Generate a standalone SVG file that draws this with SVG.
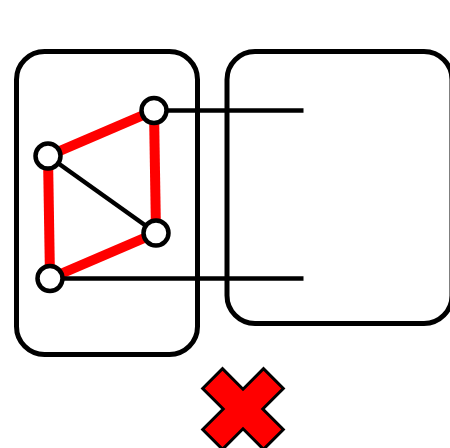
<svg xmlns="http://www.w3.org/2000/svg" width="450" height="448" viewBox="0 0 450 448">
<style>
.box{fill:none;stroke:#000;stroke-width:5}
.red{stroke:#f00;stroke-width:10;stroke-linecap:butt}
.blk{stroke:#000;stroke-width:4.5}
.node{fill:#fff;stroke:#000;stroke-width:4.5}
.x{fill:#f00;stroke:#000;stroke-width:3;stroke-linejoin:miter}
</style>
<rect width="450" height="448" fill="#fff"/>
<g id="box-left"><rect class="box" x="16.5" y="51.5" width="181" height="303" rx="28" ry="28"/></g>
<g id="box-right"><rect class="box" x="227" y="51.5" width="225" height="272" rx="28" ry="28"/></g>
<g id="connectors">
<line class="red" x1="154" y1="110.5" x2="48" y2="156"/>
<line class="red" x1="154" y1="110.5" x2="156" y2="233"/>
<line class="red" x1="48" y1="156" x2="50" y2="278.5"/>
<line class="red" x1="50" y1="278.5" x2="156" y2="233"/>
<line class="blk" x1="48" y1="156" x2="156" y2="233"/>
<line class="blk" x1="154" y1="110.5" x2="303.5" y2="110.5"/>
<line class="blk" x1="50" y1="278.5" x2="303.5" y2="278.5"/>
</g>
<g id="node-a"><circle class="node" cx="154" cy="110.5" r="12.5"/></g>
<g id="node-b"><circle class="node" cx="48" cy="156" r="12.5"/></g>
<g id="node-c"><circle class="node" cx="156" cy="233" r="12.5"/></g>
<g id="node-d"><circle class="node" cx="50" cy="278.5" r="12.5"/></g>
<g id="cross"><polygon class="x" points="243,389.2 263.5,368.7 283.3,388.5 262.8,409 283.3,429.5 263.5,449.3 243,428.8 222.5,449.3 202.7,429.5 223.2,409 202.7,388.5 222.5,368.7"/></g>
</svg>
